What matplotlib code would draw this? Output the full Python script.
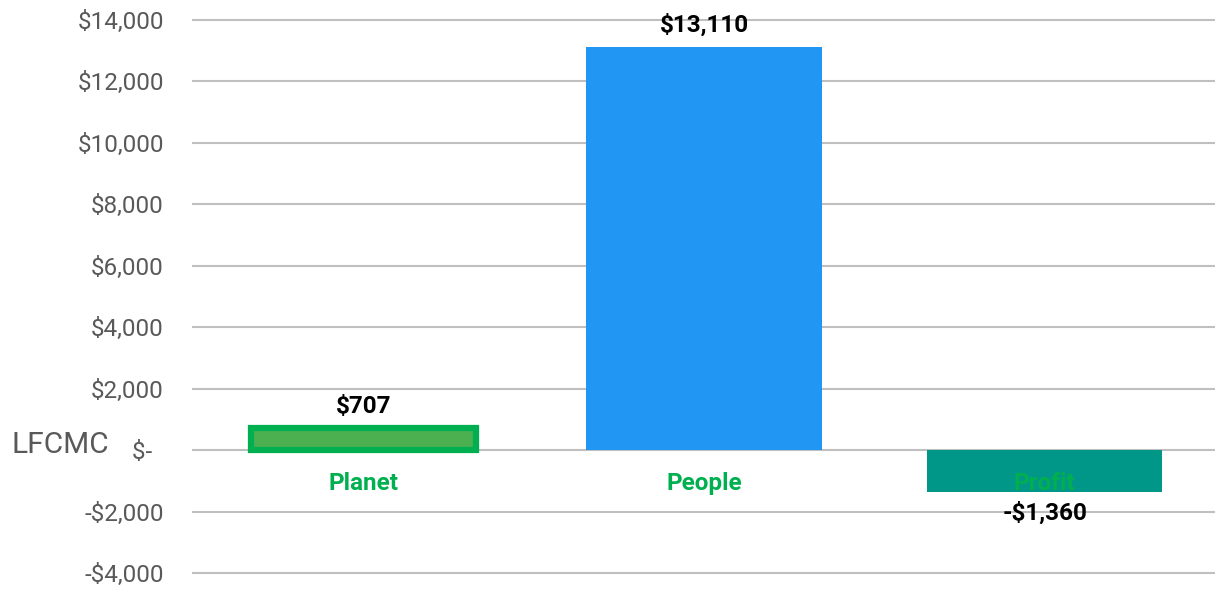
import numpy as np
import matplotlib.pyplot as plt
from matplotlib.ticker import FuncFormatter

categories = ['Planet', 'People', 'Profit']
values = [707, 13110, -1360]
value_labels = ['$707', '$13,110', '-$1,360']
bar_colors = ['#4CAF50', '#2196F3', '#009688']
edge_colors = ['#00B050', '#2196F3', '#009688']
yticks = [-4000, -2000, 0, 2000, 4000, 6000, 8000, 10000, 12000, 14000]

plt.rcParams['font.family'] = ['Roboto', 'DejaVu Sans']

def money(v, pos=None):
    if v == 0:
        return '$-  '
    s = '${:,.0f}'.format(abs(v))
    return '-' + s if v < 0 else s

fig = plt.figure(figsize=(12.15, 5.9), dpi=100)
ax = fig.add_axes([193/1215, 1 - 573/590, 1 - 193/1215, 553/590])

x = np.arange(len(categories))
widths = [0.66, 0.69, 0.69]
lws = [4.5, 0, 0]
for i in range(len(categories)):
    ax.bar(x[i], values[i], width=widths[i], color=bar_colors[i],
           edgecolor=edge_colors[i], linewidth=lws[i], zorder=3)

# value labels
for i, v in enumerate(values):
    if v >= 0:
        ax.text(x[i], v + 330, value_labels[i], ha='center', va='bottom',
                fontsize=17.5, fontweight='bold', color='black', zorder=5)
    else:
        ax.text(x[i], v - 300, value_labels[i], ha='center', va='top',
                fontsize=17.5, fontweight='bold', color='black', zorder=5)

# category labels below the zero line
for i, c in enumerate(categories):
    ax.text(x[i], -1100, c, ha='center', va='center', fontsize=17.5,
            fontweight='bold', color='#00B050', zorder=5)

ax.set_xlim(-0.5, 2.5)
ax.set_ylim(-4000, 14000)
ax.set_yticks(yticks)
ax.yaxis.set_major_formatter(FuncFormatter(money))
ax.set_xticks([])
ax.tick_params(axis='y', length=0, pad=21, labelsize=17.5, labelcolor='#595959')
ax.yaxis.grid(True, color='#BFBFBF', linewidth=1.5, zorder=0)
ax.set_axisbelow(True)
for sp in ax.spines.values():
    sp.set_visible(False)
for gl in ax.yaxis.get_gridlines():
    gl.set_clip_on(False)

fig.text(12/1215, 1 - 445/590, 'LFCMC', ha='left', va='center',
         fontsize=21.5, color='#595959')

fig.savefig('out.png', dpi=100)
